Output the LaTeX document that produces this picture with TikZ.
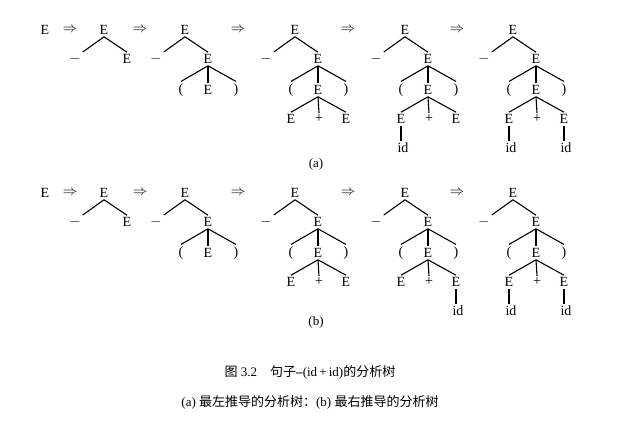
\documentclass[tikz,border=0pt]{standalone}
\usepackage{fontspec}
\setmainfont{Liberation Serif}
\newfontfamily\cjk{Noto Sans CJK SC}
\tikzset{t/.style={inner sep=2pt,font=\fontsize{14}{14}\selectfont},
 br/.style={line width=1.1pt},
 lab/.style={inner sep=0pt,font=\fontsize{13}{13}\selectfont}}
\newcommand\mytree[5]{%
 \node[t] (#1r) at (#2,#3) {E};
 \node[t] (#1m) at ({#2-29},{#3+29}) {$-$};
 \node[t] (#1e) at ({#2+23},{#3+29}) {E};
 \draw[br] (#1r.south) -- (#1m.north east);
 \draw[br] (#1r.south) -- (#1e.north);
 \ifnum#4>1
 \node[t] (#1lp) at ({#2-4},{#3+60}) {(};
 \node[t] (#1f) at ({#2+23},{#3+60}) {E};
 \node[t] (#1rp) at ({#2+51},{#3+60}) {)};
 \draw[br] (#1e.south) -- (#1lp.north);
 \draw[br] (#1e.south) -- (#1f.north);
 \draw[br] (#1e.south) -- (#1rp.north);
 \fi
 \ifnum#4>2
 \node[t] (#1a) at ({#2-4},{#3+89}) {E};
 \node[t] (#1p) at ({#2+24},{#3+89}) {+};
 \node[t] (#1b) at ({#2+51},{#3+89}) {E};
 \draw[br] (#1f.south) -- (#1a.north);
 \draw[br] (#1f.south) -- (#1p.north);
 \draw[br] (#1f.south) -- (#1b.north);
 \fi
 \ifodd#5
 \node[t] (#1ia) at ({#2-2},{#3+118}) {id};
 \draw[br] (#1a.south) -- (#1a.south|-#1ia.north);
 \fi
 \ifnum#5>1
 \node[t] (#1ib) at ({#2+53},{#3+118}) {id};
 \draw[br] (#1b.south) -- (#1b.south|-#1ib.north);
 \fi
}
\begin{document}
\begin{tikzpicture}[x=1pt,y=-1pt]
\useasboundingbox (0,0) rectangle (637,424);
\fill[white] (0,0) rectangle (637,424);
\node[t] (a0) at (45,30) {E};
\foreach \x/\n in {70/1,140/2,238/3,348/4,457/5}{\node[t] (aa\n) at (\x,30) {$\Rightarrow$};}
\mytree{aA}{104}{30}{1}{0}
\mytree{aB}{185}{30}{2}{0}
\mytree{aC}{295}{30}{3}{0}
\mytree{aD}{405}{30}{3}{1}
\mytree{aE}{513}{30}{3}{3}
\node[lab] (la) at (316,164) {(a)};
\node[t] (b0) at (45,193) {E};
\foreach \x/\n in {70/1,140/2,238/3,348/4,457/5}{\node[t] (ba\n) at (\x,193) {$\Rightarrow$};}
\mytree{bA}{104}{193}{1}{0}
\mytree{bB}{185}{193}{2}{0}
\mytree{bC}{295}{193}{3}{0}
\mytree{bD}{405}{193}{3}{2}
\mytree{bE}{513}{193}{3}{3}
\node[lab] (lb) at (316,322) {(b)};
\node[lab] (c1) at (310,372) {{\cjk 图} 3.2\quad{\cjk 句子}\textbf{–}(id\,+\,id){\cjk 的分析树}};
\node[lab] (c2) at (310,402) {(a)\ {\cjk 最左推导的分析树：}(b)\ {\cjk 最右推导的分析树}};
\end{tikzpicture}
\end{document}
